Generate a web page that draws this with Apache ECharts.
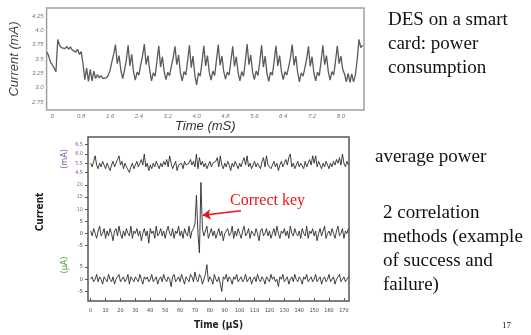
<!DOCTYPE html>
<html>
<head>
<meta charset="utf-8">
<script src="https://cdn.jsdelivr.net/npm/echarts@6/dist/echarts.min.js"></script>
<style>
  html, body { margin: 0; padding: 0; background: #fff; }
  #chart { width: 531px; height: 335px; }
</style>
</head>
<body>
<div id="chart"></div>
<script>
// DES on a smart card: power trace, sampled every 0.05 mS from -0.15 mS
const topStart = -0.15;
const topStep = 0.05;
const topCurrent = [
  3.62, 3.55, 3.44, 3.40, 3.42, 3.28, 3.84, 3.74, 3.70, 3.73,
  3.68, 3.72, 3.67, 3.71, 3.66, 3.69, 3.62, 3.67, 3.58, 3.63,
  3.42, 3.14, 3.34, 3.11, 3.32, 3.12, 3.29, 3.16, 3.23, 3.17,
  3.21, 3.16, 3.18, 3.17, 3.22, 3.30, 3.45, 3.58, 3.75, 3.42,
  3.56, 3.30, 3.16, 3.30, 3.48, 3.74, 3.38, 3.58, 3.28, 3.13,
  3.27, 3.22, 3.40, 3.55, 3.76, 3.40, 3.56, 3.30, 3.12, 3.26,
  3.20, 3.46, 3.73, 3.36, 3.54, 3.28, 3.14, 3.27, 3.21, 3.38,
  3.52, 3.72, 3.40, 3.57, 3.26, 3.12, 3.28, 3.22, 3.47, 3.74,
  3.35, 3.55, 3.22, 3.05, 3.26, 3.20, 3.45, 3.73, 3.38, 3.56,
  3.27, 3.13, 3.29, 3.21, 3.48, 3.75, 3.39, 3.55, 3.29, 3.15,
  3.27, 3.22, 3.47, 3.72, 3.37, 3.54, 3.26, 3.12, 3.28, 3.20,
  3.46, 3.76, 3.40, 3.57, 3.28, 3.14, 3.29, 3.21, 3.45, 3.74,
  3.36, 3.55, 3.25, 3.11, 3.27, 3.22, 3.47, 3.73, 3.38, 3.56,
  3.29, 3.14, 3.28, 3.22, 3.36, 3.52, 3.75, 3.39, 3.55, 3.27,
  3.10, 3.26, 3.20, 3.34, 3.50, 3.72, 3.37, 3.54, 3.26, 3.12,
  3.27, 3.21, 3.46, 3.74, 3.40, 3.56, 3.28, 3.13, 3.28, 3.22,
  3.46, 3.73, 3.42, 3.55, 3.32, 3.24, 3.10, 3.25, 3.09, 3.24,
  3.10, 3.22, 3.48, 3.84, 3.70, 3.74
];
const topYTicks = [2.75, 3.0, 3.25, 3.5, 3.75, 4.0, 4.25];
const topYLabels = ['2.75', '3.0', '3.25', '3.5', '3.75', '4.0', '4.25'];
const topXTicks = [0, 0.8, 1.6, 2.4, 3.2, 4.0, 4.8, 5.6, 6.4, 7.2, 8.0];
const topXLabels = ['0', '0.8', '1.6', '2.4', '3.2', '4.0', '4.8', '5.6', '6.4', '7.2', '8.0'];

// correlation traces, sampled every 1 uS from 0
const lowStart = 0;
const lowStep = 1;
const avgPower = [
  5.5, 5.3, 5.6, 5.9, 5.4, 5.2, 5.5, 5.3, 5.6, 5.4,
  5.2, 5.5, 5.3, 5.1, 5.4, 5.6, 5.3, 5.5, 5.7, 5.9,
  5.4, 5.6, 5.2, 5.5, 5.3, 5.4, 5.0, 5.3, 5.5, 5.2,
  5.4, 5.6, 5.3, 5.5, 5.7, 5.4, 6.0, 5.3, 5.5, 5.1,
  5.4, 5.2, 5.5, 5.3, 5.6, 5.4, 5.2, 5.5, 5.3, 5.6,
  5.4, 5.7, 5.3, 5.9, 5.5, 5.2, 5.4, 5.6, 5.1, 5.4,
  5.3, 5.5, 5.2, 5.6, 5.4, 5.3, 5.5, 5.7, 5.4, 5.6,
  5.3, 6.0, 5.2, 5.8, 5.4, 5.6, 5.3, 5.5, 5.2, 5.4,
  5.6, 5.3, 5.5, 5.4, 5.6, 5.8, 5.3, 5.9, 5.4, 5.2,
  5.5, 5.3, 5.6, 5.4, 5.1, 5.5, 5.3, 5.6, 5.4, 5.2,
  5.5, 5.3, 5.6, 5.8, 5.4, 5.9, 5.3, 5.5, 5.2, 5.4,
  5.6, 5.3, 5.5, 5.4, 5.2, 5.6, 5.8, 5.3, 5.9, 5.4,
  5.5, 5.2, 5.4, 5.6, 5.3, 5.5, 5.1, 5.4, 5.6, 5.3,
  5.5, 5.7, 5.4, 5.8, 6.0, 5.3, 5.5, 5.2, 5.4, 5.6,
  5.3, 5.5, 5.4, 5.2, 5.6, 5.3, 5.5, 5.7, 5.4, 5.9,
  5.5, 5.9, 5.3, 5.6, 5.4, 5.2, 5.5, 5.3, 5.6, 5.4,
  5.2, 5.5, 5.3, 5.6, 5.4, 5.7, 5.5, 5.8, 5.4, 6.0,
  5.5, 5.3, 5.6, 5.4
];
const corrSuccess = [
  1, -1, 2, 0, -2, 1, 3, -1, 0, 2,
  -2, 1, -1, 2, 0, -3, 1, 2, -1, 3,
  0, -2, 1, -1, 2, 0, -1, 3, -2, 1,
  0, 2, -1, 1, -3, 0, 2, -1, 1, -4,
  2, 0, 1, -2, 3, -1, 0, 2, -1, 1,
  -2, 1, 3, 0, -1, 2, -2, 1, 0, 3,
  -1, 1, -2, 2, 0, -1, 3, -2, 1, 2,
  4, 15.7, 0, -8, 21, 2, -1, 1, 3, -2,
  0, 2, -1, 1, -2, 0, 2, -1, 1, -3,
  0, 1, 2, -1, 0, 3, -2, 1, -1, 2,
  0, -2, 1, 3, -1, 0, 2, -2, 1, 0,
  -1, 2, 0, -3, 1, 2, -1, 0, 2, -1,
  1, -2, 0, 2, -1, 3, 0, -2, 1, 0,
  2, -1, 1, -2, 3, 0, -1, 2, 0, -1,
  1, -2, 2, 0, -1, 3, -2, 1, 0, 2,
  -1, 1, -3, 0, 2, -1, 1, 3, -2, 0,
  1, -1, 2, 0, -2, 1, 3, -1, 0, 2,
  -2, 1, 0, 2
];
const corrFailure = [
  0, 1, -1, 0, 2, -1, 1, 0, -2, 1,
  0, -1, 2, 0, -1, 1, -2, 0, 1, 2,
  -1, 0, 1, -1, 0, 2, -2, 1, 0, -1,
  1, 0, -1, 2, 0, -2, 1, 0, 1, -1,
  0, 2, -1, 0, 1, -2, 0, 1, -1, 2,
  0, -1, 1, 0, -3, 1, 2, -1, 0, 1,
  -1, 2, 0, -2, 1, 0, -1, 2, 1, -1,
  3, 0, -1, 2, 1, -2, 0, 2, 6, -1,
  1, 0, -2, 2, 0, -1, 1, -2, -5, 1,
  0, 2, -1, 1, 0, -2, 1, 0, 2, -1,
  0, 1, -1, 0, 2, -1, 0, 1, -2, 0,
  1, -1, 2, 0, -1, 1, 0, -2, 1, 0,
  -1, 2, 0, 1, -1, 0, -3, 1, 0, 2,
  -1, 0, 1, -2, 0, 1, -1, 2, 0, -1,
  1, 0, -2, 1, 0, 2, -1, 0, 1, -1,
  0, 2, -1, 0, 1, -2, 0, 1, -1, 0,
  2, -1, 0, 1, -2, 0, 1, 2, -1, 0,
  1, -1, 0, 1
];
const lowXTicks = [0, 10, 20, 30, 40, 50, 60, 70, 80, 90, 100, 110, 120, 130, 140, 150, 160, 170];
const mATicks = [5.0, 5.5, 6.0, 6.5];
const mALabels = ['4.5', '5.5', '6.0', '6.5'];
const successTicks = [-5, 0, 5, 10, 15, 20];
const failureTicks = [-5, 0, 5];

const toPairs = (vals, start, step) => vals.map((v, i) => [+(start + i * step).toFixed(2), v]);

const chart = echarts.init(document.getElementById('chart'));

const lowFont = 'DejaVu Sans Condensed, Liberation Sans, sans-serif';
const serif = 'Liberation Serif, Times New Roman, serif';

// shared settings for the three stacked y axes of the lower panel
const lowY = (min, max, ticks, labelExtra) => ({
  gridIndex: 1, type: 'value', position: 'left', offset: 0, min: min, max: max,
  axisLine: { show: false, onZero: false }, splitLine: { show: false },
  axisTick: { customValues: ticks, length: 3, lineStyle: { color: '#555' } },
  axisLabel: Object.assign({ customValues: ticks, margin: 5, fontSize: 5.5, color: '#444', fontFamily: lowFont }, labelExtra)
});

const option = {
  animation: false,
  backgroundColor: '#fff',
  grid: [
    { left: 34, top: 8, width: 330, height: 102, show: true, borderColor: '#a0a0a0', borderWidth: 1.5 },
    { left: 88, top: 137, width: 261, height: 168, show: true, borderColor: '#555', borderWidth: 1.5 }
  ],
  xAxis: [
    {
      gridIndex: 0, type: 'value', position: 'bottom', min: -0.16, max: 8.64,
      name: 'Time (mS)', nameLocation: 'middle', nameGap: 8,
      nameTextStyle: { fontFamily: 'Liberation Sans, Arial', fontStyle: 'italic', fontSize: 13, color: '#333' },
      axisLine: { show: false, onZero: false }, axisTick: { show: false }, splitLine: { show: false },
      axisLabel: {
        customValues: topXTicks, margin: 3, fontSize: 6, fontStyle: 'italic', color: '#777',
        formatter: v => topXLabels[topXTicks.indexOf(v)]
      }
    },
    {
      gridIndex: 1, type: 'value', position: 'bottom', min: -1.8, max: 173.4,
      name: 'Time (\u03bcS)', nameLocation: 'middle', nameGap: 19,
      nameTextStyle: { fontFamily: lowFont, fontWeight: 'bold', fontSize: 10, color: '#222' },
      axisLine: { show: false, onZero: false }, splitLine: { show: false },
      axisTick: { customValues: lowXTicks, inside: true, length: 3, lineStyle: { color: '#555' } },
      axisLabel: { customValues: lowXTicks, margin: 7, fontSize: 5.5, color: '#444', fontFamily: lowFont }
    }
  ],
  yAxis: [
    {
      gridIndex: 0, type: 'value', position: 'left', min: 2.61, max: 4.39,
      name: 'Current (mA)', nameLocation: 'middle', nameGap: 17,
      nameTextStyle: { fontFamily: 'Liberation Sans, Arial', fontStyle: 'italic', fontSize: 13, color: '#444' },
      axisLine: { show: false }, axisTick: { show: false }, splitLine: { show: false },
      axisLabel: {
        customValues: topYTicks, margin: 3, fontSize: 6, fontStyle: 'italic', color: '#777',
        formatter: v => topYLabels[topYTicks.indexOf(v)]
      }
    },
    lowY(-1.97, 6.92, mATicks, { color: '#8a5aa6', formatter: v => mALabels[mATicks.indexOf(v)] }),
    lowY(-27.8, 39.7, successTicks, { color: v => (v >= 10 ? '#5aa03c' : '#444') }),
    lowY(-8.9, 58.3, failureTicks, {})
  ],
  series: [
    {
      type: 'line', xAxisIndex: 0, yAxisIndex: 0, showSymbol: false,
      data: toPairs(topCurrent, topStart, topStep),
      lineStyle: { color: '#5a5a5a', width: 1.3 }
    },
    {
      type: 'line', xAxisIndex: 1, yAxisIndex: 1, showSymbol: false,
      data: toPairs(avgPower, lowStart, lowStep),
      lineStyle: { color: '#2a2a2a', width: 0.9 }
    },
    {
      type: 'line', xAxisIndex: 1, yAxisIndex: 2, showSymbol: false,
      data: toPairs(corrSuccess, lowStart, lowStep),
      lineStyle: { color: '#2a2a2a', width: 0.9 },
      markLine: {
        silent: true, symbol: ['none', 'arrow'], symbolSize: 8,
        lineStyle: { color: '#e8141a', width: 1.5, type: 'solid' },
        label: { show: false },
        data: [[{ coord: [100.9, 9.3] }, { coord: [75.2, 7.5] }]]
      }
    },
    {
      type: 'line', xAxisIndex: 1, yAxisIndex: 3, showSymbol: false,
      data: toPairs(corrFailure, lowStart, lowStep),
      lineStyle: { color: '#2a2a2a', width: 0.9 }
    }
  ],
  graphic: [
    { type: 'text', left: 230, top: 193, style: { text: 'Correct key', fill: '#e8141a', font: '16px ' + serif } },
    { type: 'text', x: 40, y: 212, rotation: Math.PI / 2,
      style: { text: 'Current', fill: '#222', font: 'bold 10px ' + lowFont, align: 'center', verticalAlign: 'middle' } },
    { type: 'text', x: 65, y: 159, rotation: Math.PI / 2,
      style: { text: '(mA)', fill: '#8a5aa6', font: '9px ' + lowFont, align: 'center', verticalAlign: 'middle' } },
    { type: 'text', x: 65, y: 265, rotation: Math.PI / 2,
      style: { text: '(\u03bcA)', fill: '#5aa03c', font: '9px ' + lowFont, align: 'center', verticalAlign: 'middle' } },
    { type: 'text', x: 388, y: 8, style: { text: 'DES on a smart\ncard: power\nconsumption', fill: '#111', font: '19px ' + serif, lineHeight: 24 } },
    { type: 'text', x: 375, y: 145, style: { text: 'average power', fill: '#111', font: '19px ' + serif, lineHeight: 24 } },
    { type: 'text', x: 383, y: 201, style: { text: '2 correlation\nmethods (example\nof success and\nfailure)', fill: '#111', font: '19px ' + serif, lineHeight: 24 } },
    { type: 'text', x: 502, y: 321, style: { text: '17', fill: '#111', font: '9px ' + serif } }
  ]
};

chart.setOption(option);
</script>
</body>
</html>
